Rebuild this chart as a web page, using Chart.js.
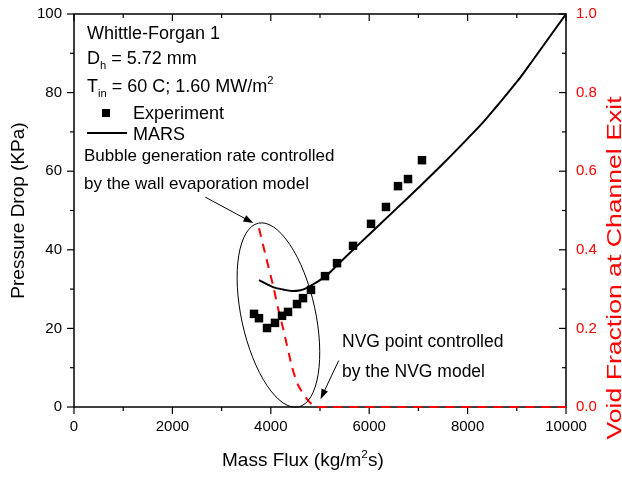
<!DOCTYPE html>
<html>
<head>
<meta charset="utf-8">
<script src="https://cdn.jsdelivr.net/npm/chart.js@4.4.1/dist/chart.umd.min.js"></script>
<style>html,body{margin:0;padding:0;background:#fff}canvas{display:block}</style>
</head>
<body>
<canvas id="c" width="622" height="477"></canvas>
<script>
// experiment (pressure drop, kPa)
const expFlux = [3659,3760,3923,4085,4228,4350,4533,4654,4817,5102,5346,5671,6037,6341,6585,6789,7073];
const expDp   = [23.7,22.6,20.1,21.4,23.2,24.2,26.2,27.7,29.8,33.3,36.6,41.0,46.6,50.9,56.2,58.0,62.8];
// MARS calc
const marsFlux = [3760,3900,4045,4250,4431,4600,4736,4870,5000,5163,5400,5671,6000,6565,7000,7500,8000,8354,9000,9329,10000];
const marsDp   = [32.3,31.4,30.5,29.9,29.5,29.7,30.3,31.3,32.3,33.8,36.7,40.0,43.9,50.6,55.8,61.9,68.3,73.0,82.7,88.3,100];
// void fraction at exit (right axis)
const voidFlux = [3760,3882,4045,4146,4248,4431,4553,4736,4919,10000];
const voidFrac = [0.455,0.392,0.310,0.252,0.201,0.102,0.056,0.020,0,0];

const xTicks = [0,2000,4000,6000,8000,10000];
const FONT = '"Liberation Sans", Arial, sans-serif';
Chart.defaults.font.family = FONT;

const zip = (a,b)=> a.map((v,i)=>({x:v,y:b[i]}));

function rich(ctx, x, y, parts, size){
  parts.forEach(([t,k])=>{
    const fs = k ? size*0.62 : size;
    ctx.font = fs+'px '+FONT;
    const dy = k==='sub' ? size*0.28 : k==='sup' ? -size*0.42 : 0;
    ctx.fillText(t, x, y+dy);
    x += ctx.measureText(t).width;
  });
}
function arrow(ctx, x1,y1,x2,y2){
  const ang = Math.atan2(y2-y1, x2-x1), L=10, W=3.5;
  ctx.beginPath(); ctx.moveTo(x1,y1); ctx.lineTo(x2-Math.cos(ang)*L*0.8, y2-Math.sin(ang)*L*0.8); ctx.stroke();
  ctx.beginPath(); ctx.moveTo(x2,y2);
  ctx.lineTo(x2-Math.cos(ang)*L - Math.sin(ang)*W, y2-Math.sin(ang)*L + Math.cos(ang)*W);
  ctx.lineTo(x2-Math.cos(ang)*L + Math.sin(ang)*W, y2-Math.sin(ang)*L - Math.cos(ang)*W);
  ctx.closePath(); ctx.fill();
}

const frame = {
  id:'frame',
  beforeDatasetsDraw(chart){
    const {ctx, chartArea:a, scales:{x,y,y1}} = chart;
    ctx.save();
    ctx.strokeStyle='#000'; ctx.lineWidth=1.5;
    ctx.strokeRect(a.left, a.top, a.right-a.left, a.bottom-a.top);
    ctx.lineWidth=1.2;
    const ln=(x1,y1_,x2,y2)=>{ctx.beginPath();ctx.moveTo(x1,y1_);ctx.lineTo(x2,y2);ctx.stroke();};
    for(let v=0; v<=10000; v+=1000){
      const p=x.getPixelForValue(v), l = v%2000===0 ? 7 : 4;
      ln(p,a.bottom,p,a.bottom+l); ln(p,a.top,p,a.top+l);
    }
    for(let v=0; v<=100; v+=10){
      const p=y.getPixelForValue(v), l = v%20===0 ? 7 : 4;
      ln(a.left-l,p,a.left,p);
    }
    for(let i=0; i<=10; i++){
      const p=y1.getPixelForValue(i/10), l = i%2===0 ? 7 : 4;
      ln(a.right-l,p,a.right,p);
    }
    ctx.restore();
  },
  afterDraw(chart){
    const {ctx, chartArea:a, scales:{x,y}} = chart;
    ctx.save();
    ctx.fillStyle='#000'; ctx.strokeStyle='#000';
    ctx.textBaseline='alphabetic'; ctx.textAlign='left';
    // info block
    rich(ctx, 87, 39, [['Whittle-Forgan 1']], 18);
    rich(ctx, 87, 64, [['D'],['h','sub'],[' = 5.72 mm']], 18);
    rich(ctx, 87, 92, [['T'],['in','sub'],[' = 60 C; 1.60 MW/m'],['2','sup']], 18);
    // legend
    ctx.fillRect(102, 109, 8, 8);
    rich(ctx, 133, 119, [['Experiment']], 18);
    ctx.lineWidth=2; ctx.beginPath(); ctx.moveTo(87,133); ctx.lineTo(127,133); ctx.stroke();
    rich(ctx, 133, 140, [['MARS']], 18);
    // annotations
    rich(ctx, 84, 161, [['Bubble generation rate controlled']], 17);
    rich(ctx, 84, 189, [['by the wall evaporation model']], 17);
    rich(ctx, 342, 347, [['NVG point controlled']], 17.5);
    rich(ctx, 342, 377, [['by the NVG model']], 17.5);
    ctx.lineWidth=1;
    arrow(ctx, x.getPixelForValue(2668), y.getPixelForValue(53.4), x.getPixelForValue(3646), y.getPixelForValue(46.8));
    arrow(ctx, x.getPixelForValue(5380), y.getPixelForValue(11.8), x.getPixelForValue(5010), y.getPixelForValue(2.0));
    // ellipse around the low-flux region
    ctx.beginPath();
    ctx.ellipse(x.getPixelForValue(4155), y.getPixelForValue(23.4), 37, 94, -0.2146, 0, Math.PI*2);
    ctx.stroke();
    // axis titles
    rich(ctx, 222, 466, [['Mass Flux (kg/m'],['2','sup'],['s)']], 19);
    ctx.save(); ctx.translate(24, (a.top+a.bottom)/2); ctx.rotate(-Math.PI/2);
    ctx.textAlign='center'; ctx.font='19px '+FONT; ctx.fillText('Pressure Drop (KPa)', 0, 0); ctx.restore();
    ctx.save(); ctx.translate(621, 268); ctx.rotate(-Math.PI/2); ctx.scale(1.33, 1);
    ctx.textAlign='center'; ctx.fillStyle='#ff0000'; ctx.font='20px '+FONT; ctx.fillText('Void Fraction at Channel Exit', 0, 0); ctx.restore();
    ctx.restore();
  }
};

new Chart(document.getElementById('c'), {
  type:'scatter',
  data:{ datasets:[
    { label:'Experiment', data:zip(expFlux,expDp), pointStyle:'rect', pointRadius:6, pointHoverRadius:6,
      backgroundColor:'#000', borderColor:'#000', borderWidth:0, showLine:false, yAxisID:'y' },
    { label:'MARS', data:zip(marsFlux,marsDp), showLine:true, borderColor:'#000', borderWidth:2,
      pointRadius:0, tension:0.3, yAxisID:'y' },
    { label:'Void', data:zip(voidFlux,voidFrac), showLine:true, borderColor:'#ff0000', borderWidth:2,
      borderDash:[9,7], pointRadius:0, tension:0.2, yAxisID:'y1', clip:4 }
  ]},
  options:{
    responsive:false, animation:false,
    layout:{ padding:{ top:14, left:0, right:0, bottom:0 } },
    plugins:{ legend:{display:false}, tooltip:{enabled:false} },
    scales:{
      x:{ type:'linear', position:'bottom', min:0, max:10000,
        afterFit:s=>{ s.height = 70; },
        afterBuildTicks:s=>{ s.ticks = xTicks.map(v=>({value:v})); },
        grid:{ display:false }, border:{ display:false },
        ticks:{ padding:3, color:'#000', font:{size:15}, maxRotation:0, callback:v=>String(v) } },
      y:{ position:'left', min:0, max:100,
        afterFit:s=>{ s.width = 74; },
        grid:{ display:false }, border:{ display:false },
        ticks:{ stepSize:20, padding:4, color:'#000', font:{size:15} } },
      y1:{ position:'right', min:0, max:1,
        afterFit:s=>{ s.width = 56; },
        grid:{ display:false }, border:{ display:false },
        ticks:{ stepSize:0.2, padding:2, color:'#ff0000', font:{size:15}, callback:v=>v.toFixed(1) } }
    }
  },
  plugins:[frame]
});
</script>
</body>
</html>
